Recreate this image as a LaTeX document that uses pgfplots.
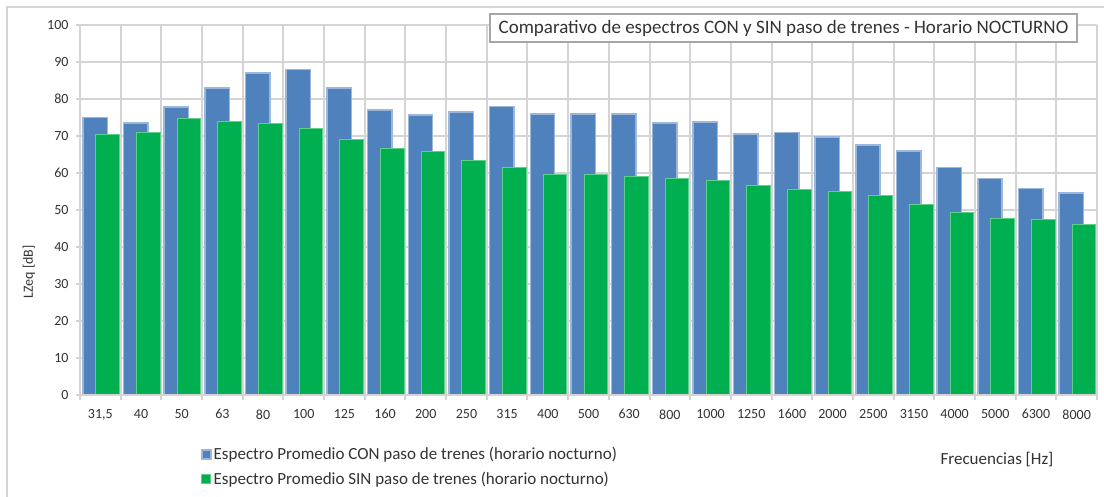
\documentclass[border=0pt]{standalone}
\usepackage{pgfplots}
\pgfplotsset{compat=1.18}
\usepackage{fontspec}
\setmainfont{Carlito}
\definecolor{cblue}{HTML}{4F81BD}
\definecolor{cblueedge}{HTML}{9DB7DA}
\definecolor{cgreen}{HTML}{00B050}
\definecolor{cgreenedge}{HTML}{5FD08C}
\definecolor{cgrid}{HTML}{D4D4D4}
\definecolor{ctext}{HTML}{333333}
\begin{document}
\begin{tikzpicture}[x=1pt,y=1pt]
\useasboundingbox (0,0) rectangle (1104,-497);
\fill[white] (0,0) rectangle (1104,-497);
\draw[cgrid, line width=2pt] (7,-497) -- (7,-7) -- (1104,-7);
\begin{axis}[
  at={(80pt,-395pt)}, anchor=south west,
  scale only axis, width=1017pt, height=370pt,
  xmin=-0.5, xmax=24.5, ymin=0, ymax=100,
  ybar,
  axis line style={draw=none},
  xtick={0,...,24},
  xticklabels={{31,5},40,50,63,80,100,125,160,200,250,315,400,500,630,800,1000,1250,1600,2000,2500,3150,4000,5000,6300,8000},
  minor xtick={-0.5,0.5,...,24.5},
  xminorgrids, ymajorgrids,
  minor grid style={cgrid, line width=2pt},
  major grid style={cgrid, line width=2pt},
  major x tick style={draw=none},
  minor x tick style={cgrid, line width=2pt},
  minor tick length=5pt,
  ytick={0,10,...,100},
  major y tick style={cgrid, line width=2pt},
  major tick length=4pt,
  tick align=outside,
  xtick pos=bottom, ytick pos=left,
  /pgf/number format/assume math mode=true,
  ticklabel style={font=\fontsize{14}{16}\selectfont, text=ctext},
  xticklabel style={yshift=-7pt},
  yticklabel style={xshift=-4pt},
  legend style={at={(0.116,-0.13)}, anchor=north west, draw=none, fill=none,
    font=\fontsize{17}{19}\selectfont, text=ctext, row sep=7pt,
    /tikz/every even column/.append style={column sep=3pt}},
  legend cell align=left,
  legend image code/.code={\fill[#1] (0pt,-4.5pt) rectangle (9pt,4.5pt);},
]
\addplot[fill=cblue, draw=cblueedge, line width=1.5pt, bar width=0.6, bar shift=-0.13] coordinates {
(0,75) (1,73.5) (2,77.8) (3,83) (4,87) (5,88) (6,83) (7,77) (8,75.7) (9,76.5)
(10,78) (11,76) (12,76) (13,76) (14,73.5) (15,73.8) (16,70.5) (17,71) (18,69.7)
(19,67.6) (20,66) (21,61.5) (22,58.5) (23,55.8) (24,54.6)};
\addlegendentry{Espectro Promedio CON paso de trenes (horario nocturno)}
\addplot[fill=cgreen, draw=cgreenedge, line width=1pt, bar width=0.58, bar shift=0.18] coordinates {
(0,70.5) (1,71) (2,74.8) (3,74) (4,73.5) (5,72) (6,69) (7,66.5) (8,65.7) (9,63.5)
(10,61.5) (11,59.5) (12,59.5) (13,59) (14,58.5) (15,58) (16,56.5) (17,55.5) (18,55)
(19,54) (20,51.5) (21,49.2) (22,47.7) (23,47.3) (24,46.2)};
\addlegendentry{Espectro Promedio SIN paso de trenes (horario nocturno)}
\draw[cgrid, line width=3pt] (axis cs:-0.5,0) -- (axis cs:24.5,0);
\end{axis}
\node[draw=black!35, line width=2.5pt, fill=white, minimum width=587pt, minimum height=28pt, inner sep=0pt,
  font=\fontsize{19}{21}\selectfont, text=ctext] at (783.5,-28) {Comparativo de espectros CON y SIN paso de trenes - Horario NOCTURNO};
\node[rotate=90, font=\fontsize{14}{16}\selectfont, text=ctext] at (29,-272) {LZeq [dB]};
\node[font=\fontsize{17}{19}\selectfont, text=ctext] at (997,-460) {Frecuencias [Hz]};
\end{tikzpicture}
\end{document}
